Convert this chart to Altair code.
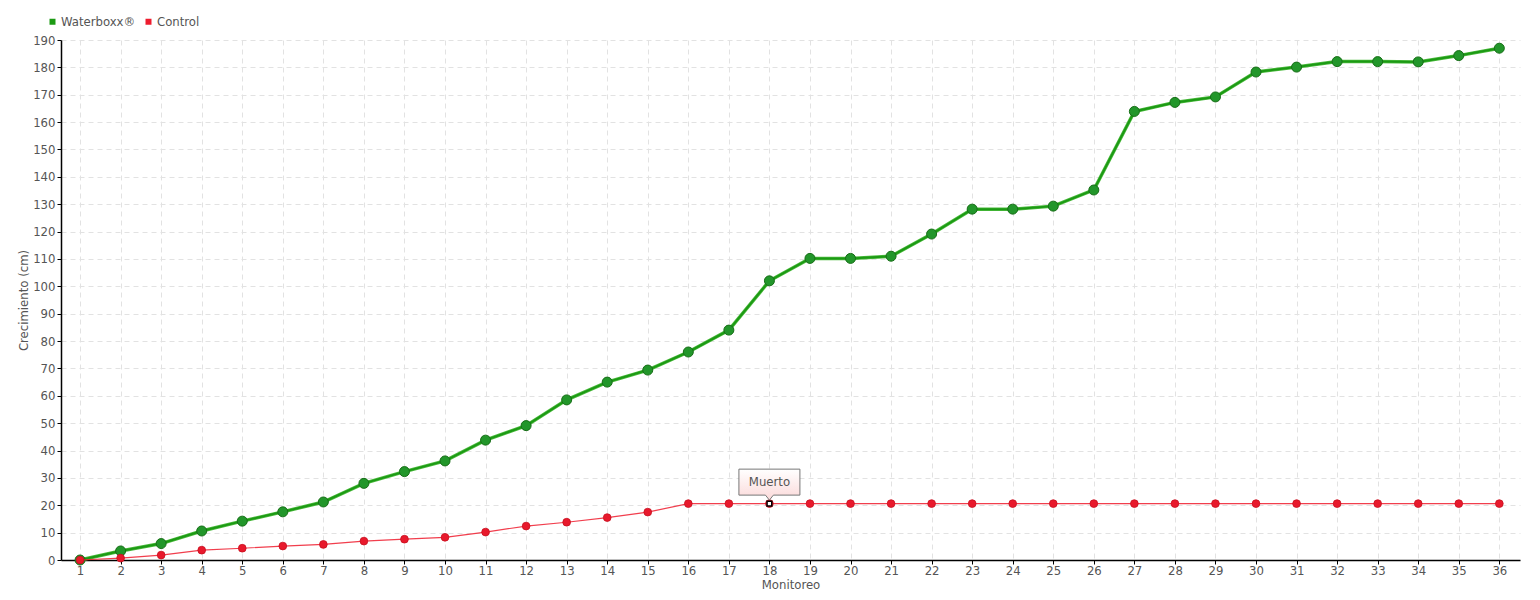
import altair as alt
import pandas as pd

monitoreo = list(range(1, 37))
waterboxx = [0, 3.3, 6, 10.6, 14.2, 17.6, 21.2, 28, 32.3, 36.2, 43.8, 49.1, 58.5, 65, 69.4, 76,
             84, 102, 110.2, 110.2, 111, 119.1, 128.2, 128.2, 129.3, 135.2, 163.9, 167.2, 169.2,
             178.3, 180.1, 182.1, 182.1, 182, 184.3, 187]
control = [0, 0.7, 1.8, 3.6, 4.3, 5.1, 5.7, 6.9, 7.6, 8.3, 10.2, 12.4, 13.8, 15.5, 17.5] + [20.6] * 21
series_names = ["Waterboxx®", "Control"]
series_colors = ["#1c9a14", "#ee1c2e"]
note_x = [18]
note_y = [20.6]
note_text = ["Muerto"]

FONT = "DejaVu Sans Condensed"
TXT = "#555555"

rows = []
for m, w, c in zip(monitoreo, waterboxx, control):
    rows.append({"m": m, "v": w, "s": series_names[0]})
    rows.append({"m": m, "v": c, "s": series_names[1]})
df = pd.DataFrame(rows)
wdf = df[df.s == series_names[0]]
cdf = df[df.s == series_names[1]]
ndf = pd.DataFrame({"m": note_x, "v": note_y, "t": note_text})

xs = alt.Scale(domain=[0.53, 36.51], nice=False, zero=False)
ys = alt.Scale(domain=[0, 190], nice=False)
color = alt.Color("s:N", scale=alt.Scale(domain=series_names, range=series_colors),
                  sort=series_names,
                  legend=alt.Legend(title=None, orient="none", legendX=-15, legendY=-25,
                                    direction="horizontal", symbolType="square", symbolSize=36,
                                    labelFont=FONT, labelFontSize=13, labelColor=TXT,
                                    columnPadding=6, symbolStrokeWidth=0, labelOffset=2))

X = alt.X("m:Q", scale=xs, title="Monitoreo",
          axis=alt.Axis(values=monitoreo, format="d", labelFont=FONT, labelFontSize=13,
                        labelColor=TXT, titleFont=FONT, titleFontSize=13, titleColor=TXT,
                        titleFontWeight="normal", titlePadding=1, domainColor="#000",
                        tickColor="#000", tickSize=4, labelPadding=0,
                        gridColor="#e2e2e2", gridDash=[5, 4], labelFlush=False))
Y = alt.Y("v:Q", scale=ys, title="Crecimiento (cm)",
          axis=alt.Axis(values=list(range(0, 191, 10)), labelFont=FONT, labelFontSize=13,
                        labelColor=TXT, titleFont=FONT, titleFontSize=13, titleColor=TXT,
                        titleFontWeight="normal", titlePadding=2, domainColor="#000",
                        tickColor="#000", tickSize=4, labelPadding=2,
                        gridColor="#e2e2e2", gridDash=[5, 4]))

green_under = alt.Chart(wdf).mark_line(color="#4dbb3f", strokeWidth=3.5).encode(x=X, y=Y)
green_line = alt.Chart(wdf).mark_line(strokeWidth=2).encode(x=X, y=Y, color=color)
green_pts = alt.Chart(wdf).mark_point(filled=True, size=100, opacity=1, stroke="#176e17",
                                      strokeWidth=1, fill="#22962a").encode(x=X, y=Y, color=color)
red_line = alt.Chart(cdf).mark_line(strokeWidth=1.2, opacity=0.85).encode(x=X, y=Y, color=color)
red_pts = alt.Chart(cdf).mark_point(filled=True, size=60, opacity=1, fill="#e8192c",
                                    stroke="#c8101f", strokeWidth=0.8).encode(x=X, y=Y, color=color)

dead_pt = alt.Chart(ndf).mark_point(shape="square", size=22, filled=True, fill="white",
                                    stroke="black", strokeWidth=1.5, opacity=1).encode(x=X, y=Y)
box_path = "M-1,-0.426 L1,-0.426 L1,0.426 L0.13,0.426 L0,0.59 L-0.13,0.426 L-1,0.426 Z"
box = alt.Chart(ndf).mark_point(
    shape=box_path, size=61 * 61, filled=True, opacity=1, yOffset=-21.5,
    fill=alt.Gradient(gradient="linear", x1=0, y1=0, x2=0, y2=1,
                      stops=[alt.GradientStop(color="#ffffff", offset=0),
                             alt.GradientStop(color="#fbd9d9", offset=1)]),
    stroke="#777777", strokeWidth=1).encode(x=X, y=Y)
label = alt.Chart(ndf).mark_text(font=FONT, fontSize=13, color=TXT, dy=-21.5,
                                 baseline="middle", align="center").encode(x=X, y=Y, text="t:N")

chart = alt.layer(green_under, green_line, green_pts, red_line, red_pts, box, label, dead_pt).properties(
    width=1459, height=520,
    autosize=alt.AutoSizeParams(type="none"),
    padding={"left": 53, "top": 32, "right": 10, "bottom": 40},
).configure_view(stroke=None).configure_axis(domainWidth=1.5)

chart.save("out.html", embed_options={"renderer": "svg", "actions": False})
